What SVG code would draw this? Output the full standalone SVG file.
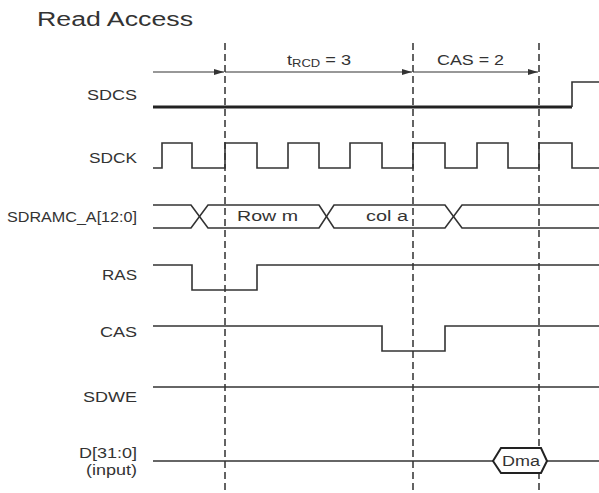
<svg xmlns="http://www.w3.org/2000/svg" width="599" height="493" viewBox="0 0 599 493">
<style>
text{font-family:"Liberation Sans",Arial,sans-serif;fill:#333;}
.lbl{font-size:14px;text-anchor:end;}
.sig{fill:none;stroke:#333;stroke-width:1.6;stroke-linejoin:miter;}
.thick{fill:none;stroke:#222;stroke-width:3.2;}
.dash{stroke:#222;stroke-width:1.4;stroke-dasharray:7,4;}
.arr{stroke:#333;stroke-width:1.2;marker-end:url(#ah);}
</style>
<defs>
<marker id="ah" markerWidth="10" markerHeight="6" refX="10" refY="3" orient="auto" markerUnits="userSpaceOnUse">
<path d="M0,0 L10,3 L0,6 Z" fill="#333"/>
</marker>
</defs>
<rect width="599" height="493" fill="#fff"/>
<text x="37" y="26" font-size="20" textLength="156" lengthAdjust="spacingAndGlyphs">Read Access</text>

<g id="connectors">
<line class="dash" x1="225" y1="43" x2="225" y2="493"/>
<line class="dash" x1="413" y1="43" x2="413" y2="493"/>
<line class="dash" x1="539" y1="43" x2="539" y2="493"/>
<line class="arr" x1="153" y1="72" x2="224" y2="72"/>
<line class="arr" x1="225" y1="72" x2="412" y2="72"/>
<line class="arr" x1="413" y1="72" x2="538" y2="72"/>
<text transform="translate(287,65) scale(1.3,1)" font-size="14">t<tspan font-size="10" dy="2">RCD</tspan><tspan dy="-2"> = 3</tspan></text>
<text x="437" y="65" font-size="14" textLength="67" lengthAdjust="spacingAndGlyphs">CAS = 2</text>
</g>

<g id="sdcs">
<text class="lbl" x="137" y="100" textLength="50" lengthAdjust="spacingAndGlyphs">SDCS</text>
<line class="thick" x1="153" y1="107" x2="572" y2="107"/>
<polyline class="sig" points="572,107 572,82 599,82"/>
</g>

<g id="sdck">
<text class="lbl" x="137" y="163" textLength="48" lengthAdjust="spacingAndGlyphs">SDCK</text>
<polyline class="sig" points="153,168 162,168 162,143 192,143 192,168 225,168 225,143 257,143 257,168 288,168 288,143 319,143 319,168 350,168 350,143 382,143 382,168 413,168 413,143 445,143 445,168 477,168 477,143 508,143 508,168 539,168 539,143 572,143 572,168 599,168"/>
</g>

<g id="sdramc_a">
<text class="lbl" x="137" y="222" textLength="130" lengthAdjust="spacingAndGlyphs">SDRAMC_A[12:0]</text>
<polyline class="sig" points="153,205 191,205 208,228 319,228 334,205 445,205 462,228 599,228"/>
<polyline class="sig" points="153,228 191,228 208,205 319,205 334,228 445,228 462,205 599,205"/>
<text x="237" y="221" font-size="14" textLength="61" lengthAdjust="spacingAndGlyphs">Row m</text>
<text x="366" y="221" font-size="14" textLength="42" lengthAdjust="spacingAndGlyphs">col a</text>
</g>

<g id="ras">
<text class="lbl" x="137" y="280" textLength="35" lengthAdjust="spacingAndGlyphs">RAS</text>
<polyline class="sig" points="153,265 192,265 192,290 257,290 257,265 599,265"/>
</g>

<g id="cas">
<text class="lbl" x="137" y="337" textLength="37" lengthAdjust="spacingAndGlyphs">CAS</text>
<polyline class="sig" points="153,326 382,326 382,351 445,351 445,326 599,326"/>
</g>

<g id="sdwe">
<text class="lbl" x="137" y="402" textLength="54" lengthAdjust="spacingAndGlyphs">SDWE</text>
<line class="sig" x1="153" y1="387" x2="599" y2="387"/>
</g>

<g id="data">
<text class="lbl" x="137" y="458" textLength="58" lengthAdjust="spacingAndGlyphs">D[31:0]</text>
<text class="lbl" x="137" y="475" textLength="51" lengthAdjust="spacingAndGlyphs">(input)</text>
<line class="sig" x1="153" y1="461" x2="493" y2="461"/>
<line class="sig" x1="547" y1="461" x2="599" y2="461"/>
<polygon points="493,461 501,448 541,448 547,461 541,473 501,473" fill="#fff" stroke="#222" stroke-width="2"/>
<text x="502" y="466" font-size="14" textLength="38" lengthAdjust="spacingAndGlyphs">Dma</text>
</g>
</svg>
